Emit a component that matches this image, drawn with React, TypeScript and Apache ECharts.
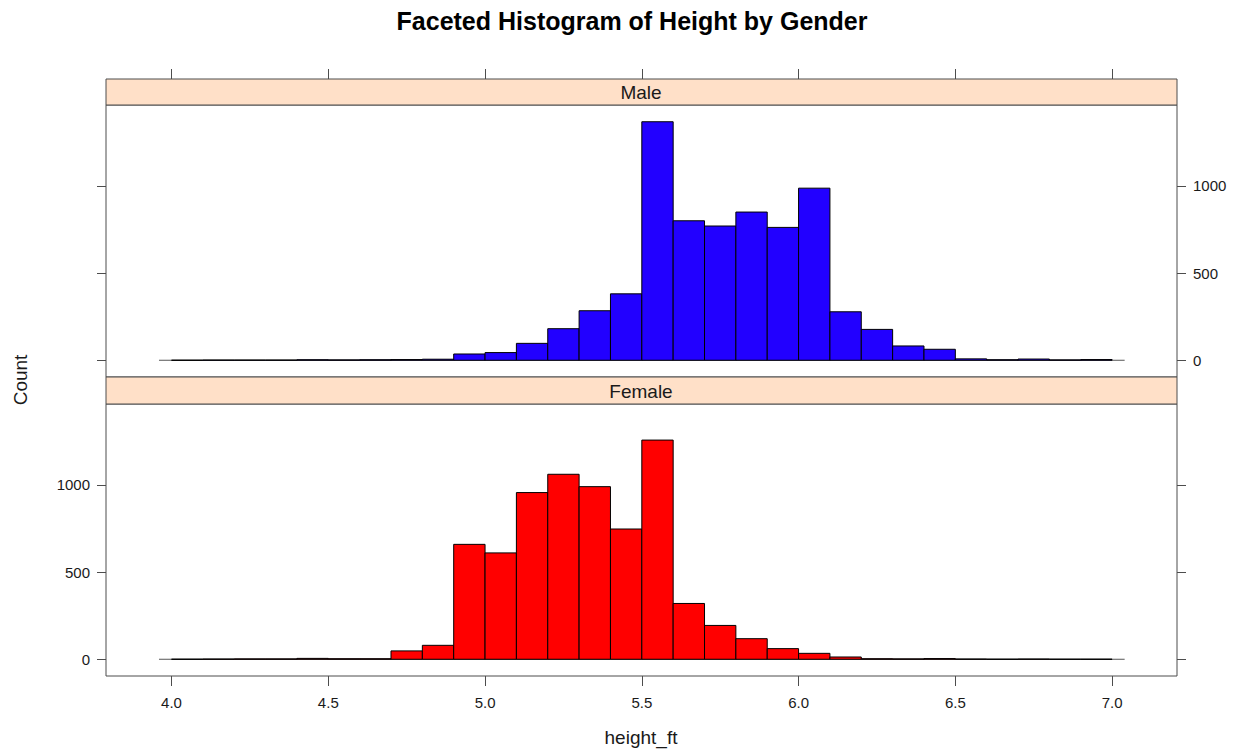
import React, { useEffect, useRef } from "react";
import * as echarts from "echarts";

// Bin edges (height in feet)
const binEdges = [
  4.0, 4.1, 4.2, 4.3, 4.4, 4.5, 4.6, 4.7, 4.8, 4.9,
  5.0, 5.1, 5.2, 5.3, 5.4, 5.5, 5.6, 5.7, 5.8, 5.9,
  6.0, 6.1, 6.2, 6.3, 6.4, 6.5, 6.6, 6.7, 6.8, 6.9, 7.0,
];

// Counts per bin
const maleCounts = [
  0, 1, 1, 1, 3, 2, 3, 4, 6, 36,
  44, 97, 181, 284, 381, 1368, 800, 770, 850, 762,
  987, 278, 177, 82, 63, 8, 3, 7, 2, 4,
];
const femaleCounts = [
  0, 1, 2, 2, 5, 3, 3, 48, 80, 659,
  610, 956, 1061, 990, 747, 1257, 320, 194, 118, 61,
  34, 13, 3, 2, 4, 1, 0, 1, 0, 0,
];

const panels = ["Male", "Female"];
const xTicks = [4.0, 4.5, 5.0, 5.5, 6.0, 6.5, 7.0];
const yTicks = [0, 500, 1000];
const dataRange = [3.96, 7.04];

const XMIN = 3.791;
const XMAX = 7.207;
const YMIN = -96;
const YMAX = 1464;

const AX = "#4d4d4d";
const TXT = "#1a1a1a";
const FONT = "'Liberation Sans', Arial, Helvetica, sans-serif";

function makeBins(counts: number[]) {
  return counts.map((c, i) => [binEdges[i], binEdges[i + 1], c]);
}

function histSeries(counts: number[], color: string, xi: number, yi: number) {
  return {
    type: "custom",
    xAxisIndex: xi,
    yAxisIndex: yi,
    data: makeBins(counts),
    encode: { x: [0, 1], y: 2 },
    z: 3,
    renderItem: (params: any, api: any) => {
      const x0 = api.value(0);
      const x1 = api.value(1);
      const v = api.value(2);
      const p0 = api.coord([x0, 0]);
      const p1 = api.coord([x1, v]);
      return {
        type: "rect",
        shape: {
          x: p0[0],
          y: p1[1],
          width: p1[0] - p0[0],
          height: p0[1] - p1[1],
        },
        style: { fill: color, stroke: "#000000", lineWidth: 1 },
      };
    },
  };
}

function baseline(xi: number, yi: number) {
  return {
    type: "line",
    xAxisIndex: xi,
    yAxisIndex: yi,
    data: [
      [dataRange[0], 0],
      [dataRange[1], 0],
    ],
    symbol: "none",
    silent: true,
    z: 2,
    lineStyle: { color: "#555555", width: 1 },
  };
}

const xAxisBase = {
  type: "value",
  min: XMIN,
  max: XMAX,
  axisLine: { show: false, onZero: false },
  splitLine: { show: false },
};

function yAxisDef(grid: number, pos: string, labels: boolean) {
  return {
    type: "value",
    gridIndex: grid,
    position: pos,
    min: YMIN,
    max: YMAX,
    axisLine: { show: false, onZero: false },
    splitLine: { show: false },
    axisTick: {
      show: true,
      length: 9,
      customValues: yTicks,
      lineStyle: { color: AX },
    },
    axisLabel: labels
      ? {
          show: true,
          customValues: yTicks,
          formatter: (v: number) => String(v),
          fontSize: 15,
          fontFamily: FONT,
          color: TXT,
          margin: 16,
        }
      : { show: false },
  };
}

export default function App() {
  const ref = useRef<HTMLDivElement>(null);

  useEffect(() => {
    document.body.style.margin = "0";
    if (!ref.current) return;
    const chart = echarts.init(ref.current, null, { renderer: "svg" });

    const option: any = {
      animation: false,
      backgroundColor: "#ffffff",
      grid: [
        { left: 106, top: 105, width: 1071, height: 272, show: true, borderColor: AX, borderWidth: 1 },
        { left: 106, top: 404, width: 1071, height: 272, show: true, borderColor: AX, borderWidth: 1 },
      ],
      xAxis: [
        {
          ...xAxisBase,
          gridIndex: 0,
          position: "top",
          offset: 26,
          axisTick: { show: true, length: 10, customValues: xTicks, lineStyle: { color: AX } },
          axisLabel: { show: false },
        },
        {
          ...xAxisBase,
          gridIndex: 1,
          position: "bottom",
          axisTick: { show: true, length: 10, customValues: xTicks, lineStyle: { color: AX } },
          axisLabel: {
            show: true,
            customValues: xTicks,
            formatter: (v: number) => v.toFixed(1),
            fontSize: 15,
            fontFamily: FONT,
            color: TXT,
            margin: 19,
          },
        },
      ],
      yAxis: [
        yAxisDef(0, "left", false),
        yAxisDef(0, "right", true),
        yAxisDef(1, "left", true),
        yAxisDef(1, "right", false),
      ],
      series: [
        baseline(0, 0),
        histSeries(maleCounts, "#2200ff", 0, 0),
        baseline(1, 2),
        histSeries(femaleCounts, "#ff0000", 1, 2),
      ],
      graphic: [
        {
          type: "rect",
          shape: { x: 106, y: 79, width: 1071, height: 26 },
          style: { fill: "#ffe0c8", stroke: AX, lineWidth: 1 },
          z: 1,
        },
        {
          type: "rect",
          shape: { x: 106, y: 377, width: 1071, height: 27 },
          style: { fill: "#ffe0c8", stroke: AX, lineWidth: 1 },
          z: 1,
        },
        {
          type: "text",
          x: 641,
          y: 92,
          z: 5,
          style: {
            text: panels[0],
            fontSize: 19,
            fontFamily: FONT,
            fill: TXT,
            textAlign: "center",
            textVerticalAlign: "middle",
          },
        },
        {
          type: "text",
          x: 641,
          y: 391,
          z: 5,
          style: {
            text: panels[1],
            fontSize: 19,
            fontFamily: FONT,
            fill: TXT,
            textAlign: "center",
            textVerticalAlign: "middle",
          },
        },
        {
          type: "text",
          x: 632,
          y: 21,
          style: {
            text: "Faceted Histogram of Height by Gender",
            fontSize: 25,
            fontWeight: "bold",
            fontFamily: FONT,
            fill: "#000000",
            textAlign: "center",
            textVerticalAlign: "middle",
          },
        },
        {
          type: "text",
          x: 20,
          y: 380,
          rotation: Math.PI / 2,
          style: {
            text: "Count",
            fontSize: 19,
            fontFamily: FONT,
            fill: TXT,
            textAlign: "center",
            textVerticalAlign: "middle",
          },
        },
        {
          type: "text",
          x: 641,
          y: 737,
          style: {
            text: "height_ft",
            fontSize: 19,
            fontFamily: FONT,
            fill: TXT,
            textAlign: "center",
            textVerticalAlign: "middle",
          },
        },
      ],
    };

    chart.setOption(option);
    return () => chart.dispose();
  }, []);

  return <div ref={ref} style={{ width: 1242, height: 750 }} />;
}
